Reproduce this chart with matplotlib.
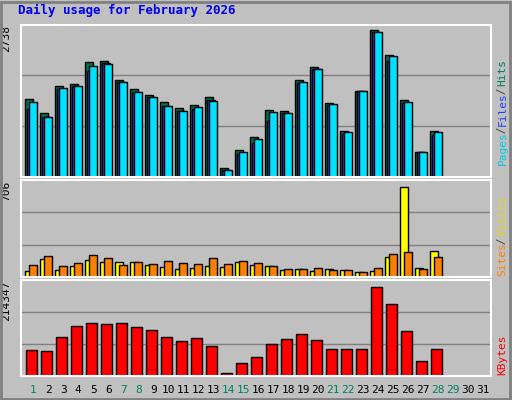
import matplotlib.pyplot as plt
from matplotlib.patches import Rectangle

days = list(range(1, 32))
hits = [1402, 1151, 1634, 1676, 2064, 2082, 1742, 1581, 1473, 1354, 1241, 1294, 1438, 149,
        489, 722, 1205, 1175, 1742, 1974, 1336, 829, 1551, 2637, 2195, 1384, 453, 829]
files = [1223, 1080, 1581, 1634, 1903, 2046, 1706, 1527, 1438, 1277, 1187, 1223, 1384, 113,
         400, 614, 1008, 1151, 1688, 1939, 1294, 775, 1545, 2601, 2082, 1330, 453, 758]
pages = [1354, 1080, 1599, 1634, 1992, 2028, 1706, 1527, 1438, 1277, 1187, 1259, 1366, 113,
         453, 686, 1169, 1151, 1706, 1939, 1312, 811, 1545, 2601, 2171, 1348, 453, 811]
visits = [45, 131, 52, 81, 124, 109, 109, 109, 88, 74, 59, 67, 81, 74,
          109, 88, 81, 52, 59, 45, 59, 52, 38, 45, 145, 658, 67, 188]
sites = [88, 152, 81, 102, 159, 138, 88, 109, 95, 116, 102, 95, 138, 95,
         116, 102, 81, 59, 59, 67, 52, 52, 38, 67, 166, 181, 59, 145]
kbytes = [57735, 55570, 85880, 111860, 118360, 116190, 118360, 109700, 103200, 88050, 77220,
          83720, 66400, 6495, 27420, 42580, 70730, 81550, 94540, 79390, 59900, 59900, 59900,
          198470, 161660, 101040, 33920, 59900]
weekend = [1, 7, 8, 14, 15, 21, 22, 28, 29]
max_hits, max_visits, max_kb = 2738, 706, 214347

W, H = 512, 400
fig = plt.figure(figsize=(W / 100, H / 100), dpi=100)
fig.patch.set_facecolor('#c0c0c0')
mono = 'DejaVu Sans Mono'

# outer frame
fig.add_artist(Rectangle((1 / W, 1 / H), 509 / W, 397 / H, transform=fig.transFigure,
                         fill=False, edgecolor='#808080', lw=2))


def panel(top, bottom, vmax):
    ax = fig.add_axes([20.7 / W, 1 - bottom / H, 470 / W, (bottom - top) / H])
    ax.set_facecolor('#c0c0c0')
    ax.set_xlim(0, 31.33)
    ax.set_ylim(0, vmax)
    for g in (1 / 3, 2 / 3):
        ax.axhline(vmax * g, color='#808080', lw=1, zorder=0)
    ax.set_xticks([])
    ax.set_yticks([])
    for s in ax.spines.values():
        s.set_color('white')
        s.set_linewidth(1.5)
    return ax


x0 = [d - 1 for d in days[:len(hits)]]

ax1 = panel(24.7, 176.7, max_hits)
ax1.bar([x + 0.29 for x in x0], hits, width=0.56, align='edge', color='#007050', edgecolor='black', lw=1)
ax1.bar([x + 0.43 for x in x0], files, width=0.5, align='edge', color='#2040ff', edgecolor='black', lw=1)
ax1.bar([x + 0.57 for x in x0], pages, width=0.5, align='edge', color='#00e0ff', edgecolor='black', lw=1)

ax2 = panel(180.3, 276.7, max_visits)
ax2.bar([x + 0.29 for x in x0], visits, width=0.56, align='edge', color='#ffff00', edgecolor='black', lw=1)
ax2.bar([x + 0.57 for x in x0], sites, width=0.5, align='edge', color='#ff8000', edgecolor='black', lw=1)

ax3 = panel(280.3, 375.7, max_kb)
ax3.bar([x + 0.35 for x in x0], kbytes, width=0.72, align='edge', color='#ff0000', edgecolor='black', lw=1)

for d in days:
    c = '#008060' if d in weekend else 'black'
    ax3.text(d - 1 + 0.84, -0.1, str(d), transform=ax3.get_xaxis_transform(),
             ha='center', va='top', fontsize=8, color=c, family=mono)

fig.text(18 / W, 1 - 10 / H, 'Daily usage for February 2026', color='#0000ee',
         fontsize=9, fontweight='bold', family=mono, va='center')

for ax, lab in ((ax1, str(max_hits)), (ax2, str(max_visits)), (ax3, str(max_kb))):
    ax.text(-0.02, 1.0, lab, transform=ax.transAxes, rotation=90, ha='right', va='top',
            fontsize=8, family=mono)


def right_label(ax, parts, start_px):
    # stack coloured parts upward from the panel bottom, in pixels
    y = start_px
    ax_h = ax.get_position().height * H
    for txt, col in parts:
        ax.text(1.025, y / ax_h, txt, transform=ax.transAxes, rotation=90, ha='center',
                va='bottom', fontsize=8, color=col, family=mono)
        y += len(txt) * 4.9


right_label(ax1, [('Pages', '#00c8e8'), (' / ', '#404040'), ('Files', '#2040ff'),
                  (' / ', '#404040'), ('Hits', '#008060')], 12)
right_label(ax2, [('Sites', '#ff8000'), (' / ', '#404040'), ('Visits', '#e8d800')], 1)
right_label(ax3, [('KBytes', '#ff0000')], 1)

fig.savefig('out.png', dpi=100, facecolor=fig.get_facecolor())
